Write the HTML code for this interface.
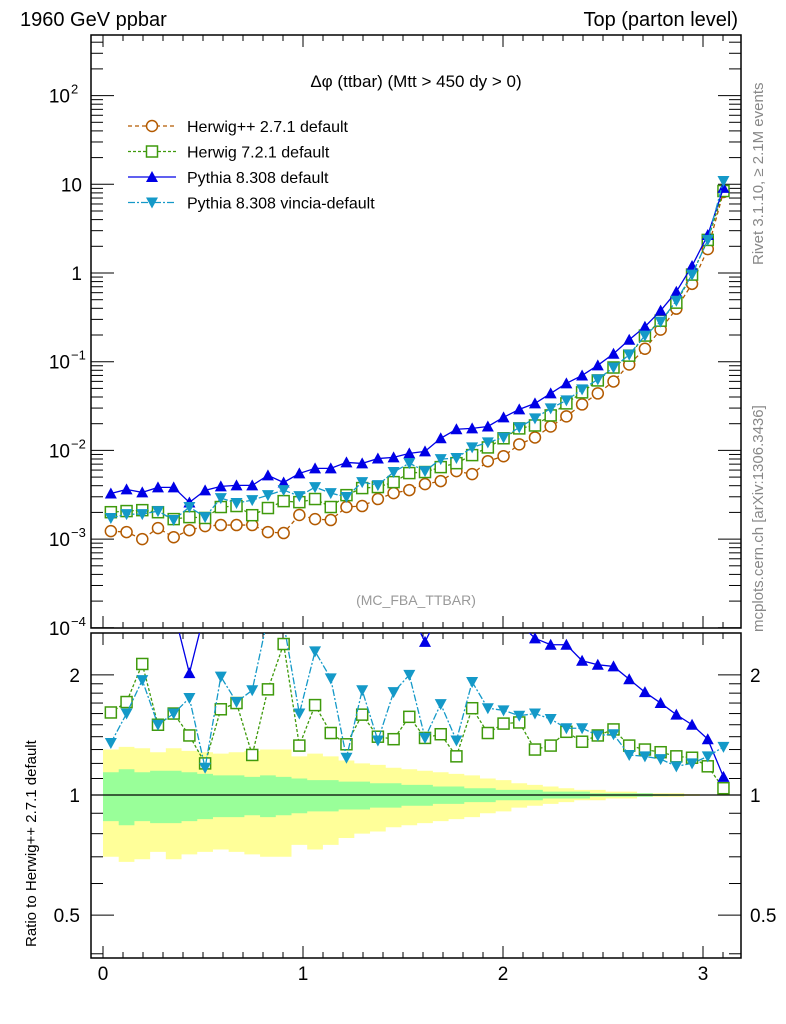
<!DOCTYPE html>
<html><head><meta charset="utf-8"><style>
body{margin:0;background:#fff}
svg{display:block;font-family:"Liberation Sans",sans-serif}
</style></head><body>
<svg id="chart" width="786" height="1024" viewBox="0 0 786 1024" xmlns="http://www.w3.org/2000/svg">
<defs>
<clipPath id="clipMain"><rect x="91" y="35" width="650" height="593"/></clipPath>
<clipPath id="clipRatio"><rect x="91" y="633" width="650" height="325"/></clipPath>
</defs>
<text x="20" y="26" font-size="20">1960 GeV ppbar</text>
<text x="738" y="26" font-size="20" text-anchor="end">Top (parton level)</text>
<text x="416" y="87" font-size="17" text-anchor="middle">Δφ (ttbar) (Mtt &gt; 450 dy &gt; 0)</text>
<text x="416" y="605" font-size="14" fill="#999" text-anchor="middle">(MC_FBA_TTBAR)</text>
<text transform="translate(763,265) rotate(-90)" font-size="15" fill="#888">Rivet 3.1.10, ≥ 2.1M events</text>
<text transform="translate(763,632) rotate(-90)" font-size="15" fill="#888">mcplots.cern.ch [arXiv:1306.3436]</text>
<text transform="translate(36,947) rotate(-90)" font-size="15">Ratio to Herwig++ 2.7.1 default</text>
<g id="bands" clip-path="url(#clipRatio)"></g>
<g id="axes"></g>
<g id="mainMarks" clip-path="url(#clipMain)"></g>
<g id="ratioMarks" clip-path="url(#clipRatio)"></g>
<g id="legend"></g>
</svg>
<script>
const NS="http://www.w3.org/2000/svg";
const nBins=40;
const xMax=Math.PI;
const herwigpp=[1.23e-3,1.20e-3,1.00e-3,1.33e-3,1.05e-3,1.26e-3,1.40e-3,1.44e-3,1.44e-3,1.44e-3,1.20e-3,1.17e-3,1.87e-3,1.68e-3,1.64e-3,2.30e-3,2.36e-3,2.83e-3,3.30e-3,3.57e-3,4.17e-3,4.51e-3,5.84e-3,5.40e-3,7.55e-3,8.6e-3,1.17e-2,1.40e-2,1.86e-2,2.42e-2,3.30e-2,4.39e-2,5.99e-2,9.3e-2,0.140,0.23,0.396,0.755,1.86,8.2];
const herwig7=[2.01e-3,2.07e-3,2.12e-3,2.01e-3,1.68e-3,1.77e-3,1.73e-3,2.30e-3,2.36e-3,1.86e-3,2.24e-3,2.68e-3,2.61e-3,2.83e-3,2.30e-3,3.13e-3,3.76e-3,3.86e-3,4.39e-3,5.55e-3,5.70e-3,6.48e-3,7.18e-3,8.85e-3,1.08e-2,1.37e-2,1.77e-2,1.91e-2,2.48e-2,3.39e-2,4.51e-2,6.15e-2,8.6e-2,0.117,0.197,0.290,0.463,0.96,2.36,8.4];
const pythia=[3.27e-3,3.63e-3,3.36e-3,3.83e-3,3.83e-3,2.59e-3,3.54e-3,3.93e-3,4.03e-3,4.03e-3,5.23e-3,4.35e-3,5.5e-3,6.27e-3,6.27e-3,7.32e-3,7.13e-3,8.1e-3,8.34e-3,9.25e-3,9.74e-3,1.37e-2,1.73e-2,1.77e-2,1.86e-2,2.36e-2,2.90e-2,3.39e-2,4.39e-2,5.70e-2,7.0e-2,9.1e-2,0.123,0.177,0.248,0.376,0.615,1.2,2.68,9.1];
const vincia=[1.73e-3,1.91e-3,1.91e-3,2.07e-3,1.64e-3,2.30e-3,1.77e-3,2.90e-3,2.55e-3,2.75e-3,3.13e-3,3.57e-3,3.05e-3,3.86e-3,3.30e-3,2.98e-3,4.39e-3,4.06e-3,5.70e-3,7.18e-3,5.84e-3,7.97e-3,8.2e-3,1.08e-2,1.23e-2,1.40e-2,1.82e-2,2.30e-2,2.98e-2,3.66e-2,4.87e-2,6.32e-2,8.6e-2,0.120,0.197,0.283,0.487,0.96,2.36,10.9];
const ratioH7=[1.61,1.71,2.13,1.50,1.60,1.41,1.20,1.64,1.70,1.26,1.84,2.39,1.33,1.68,1.43,1.34,1.59,1.40,1.38,1.57,1.39,1.42,1.25,1.65,1.43,1.51,1.52,1.30,1.33,1.44,1.36,1.41,1.46,1.33,1.30,1.28,1.25,1.24,1.18,1.04];
const ratioPy=[2.9,2.9,2.9,2.9,2.9,2.02,2.9,2.9,2.9,2.9,2.9,2.9,2.9,2.9,2.9,2.9,2.9,2.9,2.9,2.9,2.42,2.9,2.9,2.9,2.9,2.9,2.7,2.47,2.38,2.38,2.17,2.12,2.10,1.95,1.81,1.70,1.59,1.50,1.38,1.11];
const ratioVi=[1.35,1.60,1.94,1.50,1.60,1.75,1.17,1.98,1.71,1.83,2.8,2.7,1.60,2.29,1.96,1.24,1.83,1.37,1.81,2.00,1.39,1.69,1.37,1.92,1.65,1.63,1.58,1.60,1.55,1.47,1.47,1.41,1.42,1.26,1.25,1.23,1.18,1.20,1.25,1.32];
const yellowErr=[0.30,0.32,0.31,0.28,0.31,0.29,0.28,0.27,0.28,0.29,0.30,0.30,0.25,0.27,0.25,0.22,0.20,0.19,0.17,0.16,0.15,0.14,0.13,0.12,0.10,0.09,0.07,0.06,0.05,0.04,0.03,0.03,0.02,0.02,0.01,0.01,0.01,0.005,0.003,0.002];
const greenErr=[0.14,0.16,0.14,0.15,0.15,0.14,0.13,0.12,0.12,0.11,0.12,0.11,0.10,0.09,0.09,0.08,0.08,0.07,0.07,0.06,0.06,0.05,0.05,0.04,0.04,0.03,0.03,0.03,0.02,0.02,0.02,0.01,0.01,0.01,0.01,0.005,0.004,0.003,0.002,0.001];
const xTickLabels=["0","1","2","3"];
const mainTickLabels=[{v:1e-4,t:"10",e:"−4"},{v:1e-3,t:"10",e:"−3"},{v:1e-2,t:"10",e:"−2"},{v:1e-1,t:"10",e:"−1"},{v:1,t:"1",e:""},{v:10,t:"10",e:""},{v:100,t:"10",e:"2"}];
const ratioTickLabels=[{v:0.5,t:"0.5"},{v:1,t:"1"},{v:2,t:"2"}];

const X=v=>103+v*200;
const YM=v=>273-88.7*Math.log10(v);
const YR=v=>795-399*Math.log10(v);
const binW=xMax/nBins;
const cx=k=>X((k+0.5)*binW);
function el(tag,attrs,parent){const e=document.createElementNS(NS,tag);for(const k in attrs)e.setAttribute(k,attrs[k]);parent.appendChild(e);return e;}
const axes=document.getElementById('axes');
const bands=document.getElementById('bands');
const mainG=document.getElementById('mainMarks');
const ratioG=document.getElementById('ratioMarks');
const legend=document.getElementById('legend');

// bands
function band(errs,color,name){
  let up="",dn="";
  for(let k=0;k<nBins;k++){const x0=X(k*binW),x1=X((k+1)*binW);
    up+=(k?"L":"M")+x0+","+YR(1+errs[k])+"L"+x1+","+YR(1+errs[k]);
  }
  for(let k=nBins-1;k>=0;k--){const x0=X(k*binW),x1=X((k+1)*binW);
    dn+="L"+x1+","+YR(1-errs[k])+"L"+x0+","+YR(1-errs[k]);
  }
  const p=el('path',{d:up+dn+"Z",fill:color},bands);
  
  
}
band(yellowErr,"#ffff99","total-uncertainty-band");
band(greenErr,"#99ff99","stat-uncertainty-band");

// frames
const f1=el('rect',{x:91,y:35,width:650,height:593,fill:"none",stroke:"#000","stroke-width":1.5},axes);

const f2=el('rect',{x:91,y:633,width:650,height:325,fill:"none",stroke:"#000","stroke-width":1.5},axes);

const ul=el('line',{x1:91,x2:741,y1:YR(1),y2:YR(1),stroke:"#000","stroke-width":1.2},axes);


// x ticks
for(let i=0;i<=31;i++){const v=i/10;const x=X(v);const maj=i%10===0;const L=maj?12:6;
  [[35,1],[628,-1],[633,1],[958,-1]].forEach(([y,d])=>el('line',{x1:x,x2:x,y1:y,y2:y+d*L,stroke:"#000","stroke-width":1},axes));
}
xTickLabels.forEach((t,i)=>{const tx=el('text',{x:X(i),y:980,"font-size":19,"text-anchor":"middle"},axes);tx.textContent=t;
  });

// main y ticks
for(let d=-4;d<=2;d++){for(let m=1;m<=9;m++){const v=m*Math.pow(10,d);const y=YM(v);if(y<35||y>628)continue;const L=m===1?23:12;
  el('line',{x1:91,x2:91+L,y1:y,y2:y,stroke:"#000","stroke-width":1},axes);
  el('line',{x1:741,x2:741-L,y1:y,y2:y,stroke:"#000","stroke-width":1},axes);}}
mainTickLabels.forEach(o=>{const y=YM(o.v);
  const tx=el('text',{x:o.e?70:82,y:y+7,"font-size":19,"text-anchor":"end"},axes);tx.textContent=o.t;
  
  if(o.e){const s=el('text',{x:71,y:y-2,"font-size":13},axes);s.textContent=o.e;
    }
});
// ratio ticks
[0.4,0.5,0.6,0.7,0.8,0.9,1,2].forEach(v=>{const y=YR(v);const maj=(v===0.5||v===1||v===2);const L=maj?23:12;
  el('line',{x1:91,x2:91+L,y1:y,y2:y,stroke:"#000"},axes);el('line',{x1:741,x2:741-L,y1:y,y2:y,stroke:"#000"},axes);});
[1.1,1.2,1.3,1.4,1.5,1.6,1.7,1.8,1.9].forEach(v=>{const y=YR(v);
  el('line',{x1:91,x2:103,y1:y,y2:y,stroke:"#000"},axes);el('line',{x1:741,x2:729,y1:y,y2:y,stroke:"#000"},axes);});
ratioTickLabels.forEach(o=>{const y=YR(o.v)+7;
  const a=el('text',{x:80,y:y,"font-size":19,"text-anchor":"end"},axes);a.textContent=o.t;
  
  const b=el('text',{x:750,y:y,"font-size":19},axes);b.textContent=o.t;
  });

// markers
function marker(g,type,x,y,color){
  if(type==="circle")return el('circle',{cx:x,cy:y,r:5.5,fill:"#fff",stroke:color,"stroke-width":1.5},g);
  if(type==="square")return el('rect',{x:x-5.5,y:y-5.5,width:11,height:11,fill:"#fff",stroke:color,"stroke-width":1.5},g);
  if(type==="up")return el('path',{d:`M${x},${y-6}L${x+6},${y+5}L${x-6},${y+5}Z`,fill:color},g);
  return el('path',{d:`M${x},${y+6}L${x+6},${y-5}L${x-6},${y-5}Z`,fill:color},g);
}
const series=[
 {name:"herwigpp",data:herwigpp,ratio:null,color:"#b35a00",dash:"4,3",type:"circle",label:"Herwig++ 2.7.1 default"},
 {name:"herwig7",data:herwig7,ratio:ratioH7,color:"#3f9a0c",dash:"3,2",type:"square",label:"Herwig 7.2.1 default"},
 {name:"pythia",data:pythia,ratio:ratioPy,color:"#0000e6",dash:"",type:"up",label:"Pythia 8.308 default"},
 {name:"vincia",data:vincia,ratio:ratioVi,color:"#1499c8",dash:"7,2,2,2",type:"down",label:"Pythia 8.308 vincia-default"}
];
function drawSeries(g,s,vals,Y,tag){
  let d="";vals.forEach((v,k)=>{d+=(k?"L":"M")+cx(k)+","+Y(v);});
  const p=el('path',{d:d,fill:"none",stroke:s.color,"stroke-width":1.3,"stroke-dasharray":s.dash},g);
  
  vals.forEach((v,k)=>{const m=marker(g,s.type,cx(k),Y(v),s.color);
    });
}
series.forEach(s=>{drawSeries(mainG,s,s.data,YM,'main');if(s.ratio)drawSeries(ratioG,s,s.ratio,YR,'ratio');});
// legend
series.forEach((s,i)=>{const y=126+i*25.5;
  const ln=el('line',{x1:128,x2:176,y1:y,y2:y,stroke:s.color,"stroke-width":1.3,"stroke-dasharray":s.dash},legend);
  
  const m=marker(legend,s.type,152,y,s.color);
  
  const t=el('text',{x:187,y:y+6,"font-size":16},legend);t.textContent=s.label;
  
});
</script>
</body></html>
